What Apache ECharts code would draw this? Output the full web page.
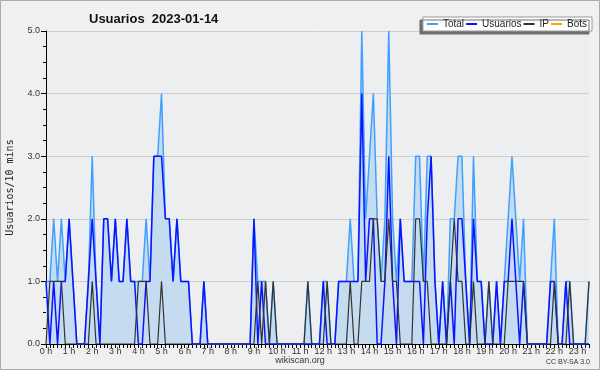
<!DOCTYPE html>
<html>
<head>
<meta charset="utf-8">
<script src="https://cdn.jsdelivr.net/npm/echarts@6/dist/echarts.min.js"></script>
<style>
html,body{margin:0;padding:0;background:#f0f0f0;}
#c{width:600px;height:370px;}
</style>
</head>
<body>
<div id="c"></div>
<script>
// 10-minute slots 00:00 .. 23:30
const hourLabels = ['0 h','1 h','2 h','3 h','4 h','5 h','6 h','7 h','8 h','9 h','10 h','11 h','12 h','13 h','14 h','15 h','16 h','17 h','18 h','19 h','20 h','21 h','22 h','23 h'];
const usuarios = [
 1,0,1,0,1,1,2,1,0,0, 0,1,2,1,0,2,2,1,2,1, 1,2,1,1,0,0,1,1,3,3,
 3,2,2,1,2,1,1,1,0,0, 0,1,0,0,0,0,0,0,0,0, 0,0,0,0,2,0,1,0,0,0,
 0,0,0,0,0,0,0,0,0,0, 0,0,1,0,0,0,1,1,1,1, 1,1,4,1,2,2,0,0,1,3,
 1,0,2,1,1,1,1,1,0,2, 3,1,0,1,0,1,0,2,2,1, 0,2,1,1,0,0,0,1,0,1,
 1,2,1,0,1,0,0,0,0,0, 0,1,1,0,0,1,0,0,0,0, 0,0
];
const ip = [
 0,1,1,1,1,0,0,0,0,0, 0,0,1,0,0,0,0,0,0,0, 0,0,0,0,1,1,1,0,0,0,
 1,0,0,0,0,0,0,0,0,0, 0,0,0,0,0,0,0,0,0,0, 0,0,0,0,0,1,0,1,0,1,
 0,0,0,0,0,0,0,0,1,0, 0,0,0,1,0,0,0,0,0,1, 0,0,1,1,1,2,2,1,1,2,
 1,1,0,0,0,0,2,2,1,1, 0,0,0,0,0,1,2,1,1,0, 0,1,0,0,0,1,0,0,0,0,
 1,1,1,1,1,0,0,0,0,0, 0,0,1,0,0,0,1,0,0,0, 0,1
];
const bots = [];
const total = usuarios.map((u, i) => u + ip[i]);
const slots = usuarios.map((_, i) => {
  const h = Math.floor(i / 6), m = (i % 6) * 10;
  return String(h).padStart(2, '0') + ':' + String(m).padStart(2, '0');
});

const cTotal = '#3fa0ff', cUser = '#0a14ff', cIp = '#333333', cBots = '#ffa500';
const chart = echarts.init(document.getElementById('c'), null, {renderer: 'canvas'});
const font = 'Liberation Sans';
chart.setOption({
  animation: false,
  backgroundColor: '#f0f0f0',
  textStyle: {fontFamily: font},
  title: {
    text: 'Usuarios  2023-01-14',
    left: 84, top: 8,
    textStyle: {fontSize: 13, fontWeight: 'bold', color: '#111', fontFamily: font}
  },
  legend: {
    right: 8, top: 17,
    backgroundColor: '#ffffff',
    borderColor: '#999', borderWidth: 1,
    shadowColor: 'rgba(110,110,110,1)', shadowOffsetX: -3, shadowOffsetY: 3, shadowBlur: 0,
    padding: [2, 5, 2, 4],
    itemGap: 2, itemWidth: 11, itemHeight: 2,
    icon: 'rect',
    textStyle: {fontSize: 10, color: '#222', fontFamily: font},
    data: [
      {name: 'Total', icon: 'rect', itemStyle: {color: cTotal}},
      {name: 'Usuarios', icon: 'rect', itemStyle: {color: cUser}},
      {name: 'IP', icon: 'rect', itemStyle: {color: cIp}},
      {name: 'Bots', icon: 'rect', itemStyle: {color: cBots}}
    ]
  },
  grid: {left: 46, right: 11, top: 31, bottom: 26, show: true, backgroundColor: '#eceef0', borderWidth: 0,
         containLabel: false, outerBoundsMode: 'none'},
  xAxis: {
    type: 'category', data: slots, boundaryGap: false,
    axisLine: {lineStyle: {color: '#000', width: 1}},
    axisTick: {interval: 0, length: 4, lineStyle: {color: '#000'}},
    axisLabel: {
      interval: 5, fontSize: 9, color: '#333', margin: 3, fontFamily: font,
      formatter: (v, i) => hourLabels[Math.floor(i / 6)]
    },
    splitLine: {show: false}
  },
  yAxis: {
    type: 'value', min: 0, max: 5, interval: 1,
    name: 'Usuarios/10 mins', nameLocation: 'middle', nameGap: 31, nameRotate: 90,
    nameTextStyle: {fontSize: 10, color: '#222', fontFamily: 'DejaVu Sans Mono'},
    axisLine: {show: true, lineStyle: {color: '#000', width: 1}},
    axisTick: {show: true, length: 5, lineStyle: {color: '#000'}},
    minorTick: {show: true, splitNumber: 4, length: 3, lineStyle: {color: '#000'}},
    axisLabel: {fontSize: 9, color: '#333', margin: 6, formatter: v => v.toFixed(1), fontFamily: font},
    splitLine: {show: true, lineStyle: {color: '#cfcfcf', width: 1}}
  },
  graphic: [
    {type: 'rect', shape: {x: 0.5, y: 0.5, width: 599, height: 369}, style: {fill: 'none', stroke: '#aaa', lineWidth: 1}, silent: true},
    {type: 'text', left: 'center', top: 356, style: {text: 'wikiscan.org', fontSize: 9, fill: '#333', fontFamily: font}},
    {type: 'text', right: 10, top: 359, style: {text: 'CC BY-SA 3.0', fontSize: 7, fill: '#333', fontFamily: font}}
  ],
  series: [
    {name: 'Total', type: 'line', data: total, symbol: 'none', z: 2,
     lineStyle: {color: cTotal, width: 1.5}, itemStyle: {color: cTotal},
     areaStyle: {color: '#c5dcf0', opacity: 1}},
    {name: 'Usuarios', type: 'line', data: usuarios, symbol: 'none', z: 3,
     lineStyle: {color: cUser, width: 1.5}, itemStyle: {color: cUser}},
    {name: 'IP', type: 'line', data: ip, symbol: 'none', z: 4,
     lineStyle: {color: cIp, width: 1.2}, itemStyle: {color: cIp}},
    {name: 'Bots', type: 'line', data: bots, symbol: 'none', z: 5,
     lineStyle: {color: cBots, width: 1.5}, itemStyle: {color: cBots}}
  ]
});
</script>
</body>
</html>
